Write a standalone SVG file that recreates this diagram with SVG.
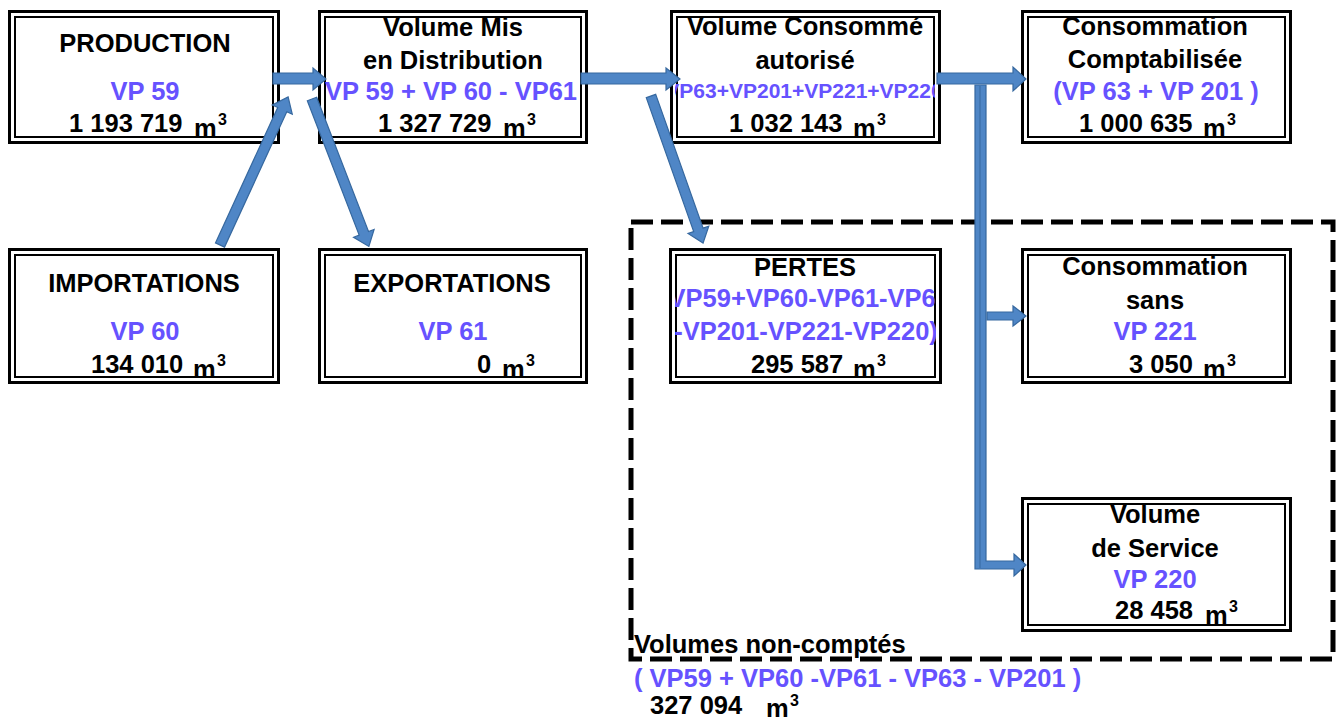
<svg xmlns="http://www.w3.org/2000/svg" width="1344" height="722" viewBox="0 0 1344 722">
<defs>
<style>
text{font-family:"Liberation Sans",Arial,sans-serif;font-weight:bold;font-size:25.5px;fill:#000}
.c{text-anchor:middle}
.b{fill:#6652FF}
.s{font-size:16px}
.f{font-size:21px}
.o{fill:#fff;stroke:#000;stroke-width:3}
.i{fill:none;stroke:#000;stroke-width:2}
.a{fill:#4F86C6;stroke:#36689F;stroke-width:1.2}
.d{fill:none;stroke:#000;stroke-width:5;stroke-dasharray:22 8}
</style>
<clipPath id="cvc"><rect x="675" y="15" width="260" height="124"/></clipPath>
<clipPath id="cpe"><rect x="675" y="253" width="261" height="126"/></clipPath>
</defs>
<rect width="1344" height="722" fill="#fff"/>

<g id="frame-non-comptes">
<path class="d" d="M631,222 L1333,222 L1333,659 L631,659 Z"/>
<text x="634" y="653">Volumes non-comptés</text>
<text class="b" x="634" y="687">( VP59 + VP60 -VP61 - VP63 - VP201 )</text>
<text x="650" y="714">327 094</text><text x="766" y="717">m</text><text class="s" x="790" y="706">3</text>
</g>

<g id="production">
<rect class="o" x="9.5" y="11.5" width="269" height="131"/>
<rect class="i" x="15" y="17" width="258" height="120"/>
<text class="c" x="145" y="52">PRODUCTION</text>
<text class="c b" x="145" y="100">VP 59</text>
<text x="69" y="132">1 193 719</text><text x="194" y="137">m</text><text class="s" x="218" y="125">3</text>
</g>

<g id="volume-mis">
<rect class="o" x="319.5" y="11.5" width="267" height="131"/>
<rect class="i" x="325" y="17" width="256" height="120"/>
<text class="c" x="453" y="36">Volume Mis</text>
<text class="c" x="453" y="69">en Distribution</text>
<text class="c b" x="451" y="100">VP 59 + VP 60 - VP61</text>
<text x="378" y="132">1 327 729</text><text x="503" y="137">m</text><text class="s" x="527" y="125">3</text>
</g>

<g id="volume-consomme">
<rect class="o" x="671.5" y="11.5" width="268" height="131"/>
<rect class="i" x="677" y="17" width="257" height="120"/>
<text class="c" x="805" y="35">Volume Consommé</text>
<text class="c" x="805" y="69">autorisé</text>
<g clip-path="url(#cvc)"><text class="c b f" x="804" y="98">(VP63+VP201+VP221+VP220)</text></g>
<text x="729" y="132">1 032 143</text><text x="853" y="137">m</text><text class="s" x="877" y="125">3</text>
</g>

<g id="consommation-comptabilisee">
<rect class="o" x="1022.5" y="11.5" width="268" height="131"/>
<rect class="i" x="1028" y="17" width="257" height="120"/>
<text class="c" x="1155" y="35">Consommation</text>
<text class="c" x="1155" y="68">Comptabilisée</text>
<text class="c b" x="1156" y="100">(VP 63 + VP 201 )</text>
<text x="1079" y="132">1 000 635</text><text x="1203" y="137">m</text><text class="s" x="1227" y="125">3</text>
</g>

<g id="importations">
<rect class="o" x="9.5" y="249.5" width="269" height="133"/>
<rect class="i" x="15" y="255" width="258" height="122"/>
<text class="c" x="144" y="292">IMPORTATIONS</text>
<text class="c b" x="145" y="340">VP 60</text>
<text x="91" y="373">134 010</text><text x="193" y="378">m</text><text class="s" x="217" y="366">3</text>
</g>

<g id="exportations">
<rect class="o" x="319.5" y="249.5" width="267" height="133"/>
<rect class="i" x="325" y="255" width="256" height="122"/>
<text class="c" x="452" y="292">EXPORTATIONS</text>
<text class="c b" x="453" y="340">VP 61</text>
<text x="477" y="373">0</text><text x="502" y="378">m</text><text class="s" x="526" y="366">3</text>
</g>

<g id="pertes">
<rect class="o" x="670.5" y="249.5" width="270" height="133"/>
<rect class="i" x="676" y="255" width="259" height="122"/>
<text class="c" x="805" y="276">PERTES</text>
<g clip-path="url(#cpe)">
<text class="c b" x="805" y="307">(VP59+VP60-VP61-VP63</text>
<text class="c b" x="806" y="340">-VP201-VP221-VP220)</text>
</g>
<text x="751" y="373">295 587</text><text x="853" y="378">m</text><text class="s" x="877" y="366">3</text>
</g>

<g id="consommation-sans">
<rect class="o" x="1022.5" y="249.5" width="268" height="133"/>
<rect class="i" x="1028" y="255" width="257" height="122"/>
<text class="c" x="1155" y="275">Consommation</text>
<text class="c" x="1155" y="309">sans</text>
<text class="c b" x="1155" y="340">VP 221</text>
<text x="1129" y="373">3 050</text><text x="1203" y="378">m</text><text class="s" x="1227" y="366">3</text>
</g>

<g id="volume-service">
<rect class="o" x="1022.5" y="498.5" width="268" height="132"/>
<rect class="i" x="1028" y="504" width="257" height="121"/>
<text class="c" x="1155" y="523">Volume</text>
<text class="c" x="1155" y="557">de Service</text>
<text class="c b" x="1155" y="588">VP 220</text>
<text x="1115" y="619">28 458</text><text x="1205" y="624">m</text><text class="s" x="1229" y="612">3</text>
</g>

<g id="connectors">
<path class="a" d="M273,73 L313,73 L313,68 L326,79 L313,90 L313,84 L273,84 Z"/>
<path class="a" d="M581,73 L666,73 L666,68 L680,79 L666,90 L666,84 L581,84 Z"/>
<path class="a" d="M937,73 L1013,73 L1013,67 L1026,79 L1013,91 L1013,84 L937,84 Z"/>
<path class="a" transform="translate(220,245) rotate(-65.3)" d="M0,-5 L149,-5 L149,-11 L163,0 L149,11 L149,5 L0,5 Z"/>
<path class="a" transform="translate(312,99) rotate(68.9)" d="M0,-5 L144,-5 L144,-11 L158,0 L144,11 L144,5 L0,5 Z"/>
<path class="a" transform="translate(651,96) rotate(70.5)" d="M0,-5 L142,-5 L142,-11 L156,0 L142,11 L142,5 L0,5 Z"/>
<path class="a" d="M975,85 L986,85 L986,561 L1014,561 L1014,554 L1026,565 L1014,576 L1014,569 L975,569 Z"/>
<line x1="980" y1="86" x2="980" y2="568" stroke="#36689F" stroke-width="1"/>
<path class="a" d="M987,312 L1013,312 L1013,306 L1026,316 L1013,326 L1013,320 L987,320 Z"/>
</g>
</svg>
